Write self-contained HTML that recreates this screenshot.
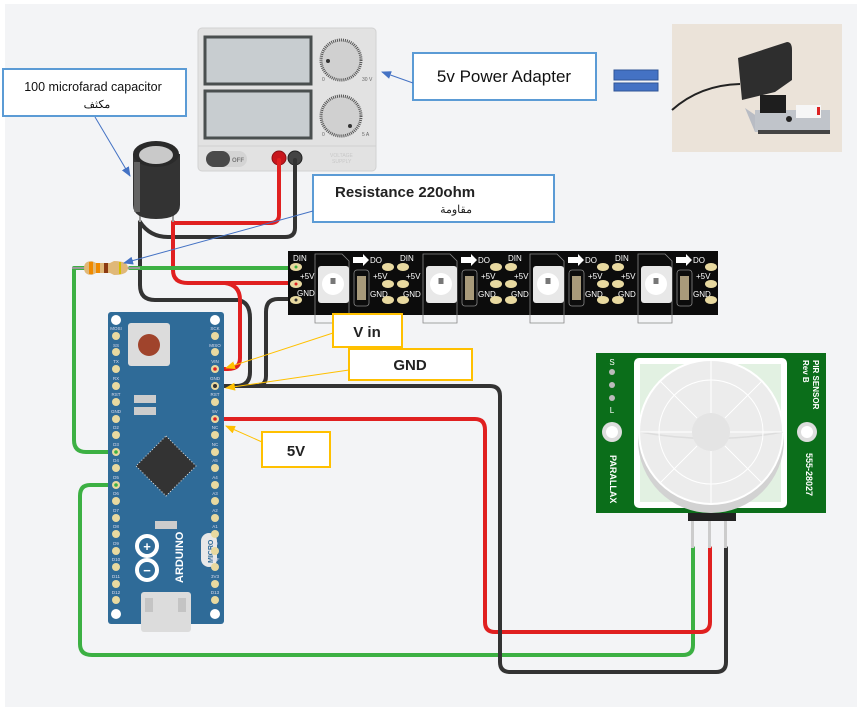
<!DOCTYPE html>
<html><head><meta charset="utf-8"><style>
html,body{margin:0;padding:0;background:#fff}
svg{display:block}
text{font-family:"Liberation Sans","Noto Sans CJK SC",sans-serif}
</style></head><body>
<svg width="862" height="712" viewBox="0 0 862 712" xmlns="http://www.w3.org/2000/svg">
<defs>
<marker id="ab" markerWidth="10" markerHeight="8" refX="9" refY="4" orient="auto" markerUnits="userSpaceOnUse"><path d="M0,0 L10,4 L0,8 z" fill="#4472c4"/></marker>
<marker id="ay" markerWidth="10" markerHeight="8" refX="9" refY="4" orient="auto" markerUnits="userSpaceOnUse"><path d="M0,0 L10,4 L0,8 z" fill="#ffc000"/></marker>
<g id="seg">
  <path d="M0,3 h27 l7,7 v62 h-34 z" fill="none" stroke="#888" stroke-width="0.8"/>
  <rect x="3" y="15" width="31" height="37" rx="3" fill="#e8e8e8"/>
  <circle cx="18" cy="33" r="11" fill="#fff"/>
  <rect x="15.5" y="27" width="5" height="6" fill="#777"/>
  <path d="M38,6 h10 v-3 l6,6 l-6,6 v-3 h-10z" fill="#fff"/>
  <rect x="39" y="19" width="15" height="36" rx="3" fill="none" stroke="#888" stroke-width="0.8"/>
  <rect x="42" y="25" width="9" height="24" fill="#a89a7a"/>
  <text x="55" y="12" font-size="8" fill="#fff">DO</text>
  <text x="85" y="10" font-size="8" fill="#fff">DIN</text>
  <text x="58" y="28" font-size="8" fill="#fff">+5V</text>
  <text x="91" y="28" font-size="8" fill="#fff">+5V</text>
  <text x="55" y="46" font-size="8" fill="#fff">GND</text>
  <text x="88" y="46" font-size="8" fill="#fff">GND</text>
  <g fill="#e8d9a0">
   <ellipse cx="73" cy="16" rx="6" ry="4"/><ellipse cx="88" cy="16" rx="6" ry="4"/>
   <ellipse cx="73" cy="33" rx="6" ry="4"/><ellipse cx="88" cy="33" rx="6" ry="4"/>
   <ellipse cx="73" cy="49" rx="6" ry="4"/><ellipse cx="88" cy="49" rx="6" ry="4"/>
  </g>
</g>
</defs>
<rect x="5" y="4" width="852" height="703" fill="#f3f4f6"/>

<!-- Power supply -->
<rect x="198" y="28" width="178" height="143" rx="4" fill="#e2e2e2" stroke="#d2d2d2"/>
<rect x="205" y="37" width="106" height="47" fill="#c8cdd0" stroke="#4a4f4f" stroke-width="3"/>
<rect x="205" y="91" width="106" height="47" fill="#c8cdd0" stroke="#4a4f4f" stroke-width="3"/>
<circle cx="341" cy="60" r="20" fill="#d0d0d0" stroke="#555" stroke-width="3" stroke-dasharray="1 1"/>
<circle cx="341" cy="116" r="20" fill="#d0d0d0" stroke="#555" stroke-width="3" stroke-dasharray="1 1"/>
<circle cx="328" cy="61" r="2" fill="#333"/><circle cx="350" cy="126" r="2" fill="#333"/>
<text x="322" y="81" font-size="5" fill="#666">0</text><text x="362" y="81" font-size="5" fill="#666">30 V</text>
<text x="322" y="136" font-size="5" fill="#666">0</text><text x="362" y="136" font-size="5" fill="#666">5 A</text>
<line x1="198" y1="146" x2="376" y2="146" stroke="#d0d0d0"/>
<rect x="206" y="151" width="41" height="16" rx="8" fill="#d4d4d4"/>
<rect x="206" y="151" width="24" height="16" rx="8" fill="#4a4a4a"/>
<text x="232" y="162" font-size="6" fill="#777" font-weight="bold">OFF</text>
<text x="330" y="157" font-size="5" fill="#c8c8c8">VOLTAGE</text><text x="332" y="163" font-size="5" fill="#c8c8c8">SUPPLY</text>
<circle cx="279" cy="158" r="7" fill="#c8161d" stroke="#8a1015"/>
<circle cx="295" cy="158" r="7" fill="#444" stroke="#222"/>

<!-- 5v Power Adapter -->
<rect x="413" y="53" width="183" height="47" fill="#fff" stroke="#5b9bd5" stroke-width="2"/>
<text x="504" y="82" font-size="17" text-anchor="middle" fill="#111">5v Power Adapter</text>
<line x1="413" y1="83" x2="382" y2="72" stroke="#4472c4" stroke-width="1" marker-end="url(#ab)"/>
<rect x="614" y="70" width="44" height="10" fill="#4472c4" stroke="#2f5597"/>
<rect x="614" y="83" width="44" height="8" fill="#4472c4" stroke="#2f5597"/>

<!-- Photo -->
<rect x="672" y="24" width="170" height="128" fill="#ebe3d9"/>
<path d="M672,110 Q700,85 740,84" stroke="#222" stroke-width="2" fill="none"/>
<path d="M745,108 L770,125 L830,125 L830,132 L755,132 Z" fill="#b8bcc4"/>
<rect x="755" y="110" width="75" height="22" fill="#c0c4ca"/>
<rect x="758" y="130" width="72" height="4" fill="#444"/>
<path d="M738,58 L787,42 Q792,42 792,50 L792,80 L775,92 L742,100 Z" fill="#2e2e2e"/>
<rect x="760" y="95" width="26" height="18" fill="#1e1e1e"/>
<rect x="796" y="105" width="25" height="13" fill="#f6f6f6"/>
<rect x="817" y="107" width="3" height="8" fill="#d22"/>
<circle cx="789" cy="119" r="3" fill="#222"/>

<!-- Capacitor label -->
<rect x="3" y="69" width="183" height="47" fill="#fff" stroke="#5b9bd5" stroke-width="2"/>
<text x="93" y="91" font-size="12.5" text-anchor="middle" fill="#111">100 microfarad capacitor</text>
<text x="97" y="108" font-size="11" text-anchor="middle" fill="#111" font-family="DejaVu Sans,sans-serif">مكثف</text>
<line x1="95" y1="117" x2="130" y2="176" stroke="#4472c4" stroke-width="1" marker-end="url(#ab)"/>

<!-- Wires (behind) -->
<g fill="none" stroke-width="4" stroke-linejoin="round" stroke-linecap="round">
 <path d="M295,160 V228 Q295,237 285,237 H168 Q150,237 140,222" stroke="#333"/>
 <path d="M279,160 V215 Q279,223 270,223 H173" stroke="#e02020"/>
 <path d="M140,222 V285 Q140,300 155,300 H238 Q250,302 250,318 V372 Q250,386 236,386 H216" stroke="#333"/>
 <path d="M290,299 H278 Q266,299 266,312 V376 Q266,386 256,386 H216" stroke="#333"/>
 <path d="M173,222 V270 Q173,283 188,283 H225 Q240,285 240,300 V358 Q240,369 228,369 H216" stroke="#e02020"/>
 <path d="M225,283 H292" stroke="#e02020"/>
 <path d="M130,268 H292" stroke="#3cb043"/>
 <path d="M85,268 H74 V440 Q74,452 86,452 H116" stroke="#3cb043"/>
 <path d="M116,485 H90 Q80,485 80,496 V644 Q80,655 92,655 H683 Q693,655 693,645 V548" stroke="#3cb043"/>
 <path d="M216,419 H475 Q485,419 485,430 V622 Q485,632 495,632 H700 Q710,632 710,622 V548" stroke="#e02020"/>
 <path d="M216,386 H490 Q500,386 500,396 V662 Q500,672 510,672 H716 Q726,672 726,662 V548" stroke="#333"/>
</g>

<!-- Capacitor -->
<line x1="140" y1="205" x2="140" y2="222" stroke="#999" stroke-width="2"/>
<line x1="173" y1="205" x2="173" y2="222" stroke="#999" stroke-width="2"/>
<path d="M133,154 V205 Q133,219 156,219 Q180,219 180,205 V154 Z" fill="#333"/>
<ellipse cx="156" cy="154" rx="23" ry="13" fill="#2a2a2a"/>
<ellipse cx="156" cy="155" rx="17" ry="9" fill="#c9c9c9"/>
<rect x="134" y="162" width="6" height="50" fill="#777" opacity="0.7"/>

<!-- Resistor -->
<line x1="72" y1="268" x2="140" y2="268" stroke="#999" stroke-width="2"/>
<path d="M84,268 Q84,261 92,261 L96,263 H110 L114,261 Q128,261 128,268 Q128,275 114,275 L110,273 H96 L92,275 Q84,275 84,268Z" fill="#e0b878"/>
<rect x="89" y="262" width="4" height="12" fill="#f08a00"/>
<rect x="96" y="263" width="4" height="10" fill="#f08a00"/>
<rect x="104" y="263" width="4" height="10" fill="#8b3a12"/>
<rect x="119" y="262" width="2" height="12" fill="#d4c000"/>

<!-- Resistance label -->
<rect x="313" y="175" width="241" height="47" fill="#fff" stroke="#5b9bd5" stroke-width="2"/>
<text x="335" y="197" font-size="15" font-weight="bold" fill="#222">Resistance 220ohm</text>
<text x="472" y="213" font-size="11" text-anchor="end" fill="#222" font-family="DejaVu Sans,sans-serif">مقاومة</text>
<line x1="313" y1="211" x2="124" y2="263" stroke="#4472c4" stroke-width="1" marker-end="url(#ab)"/>

<!-- LED strip -->
<rect x="288" y="251" width="430" height="64" fill="#0c0c0c"/>
<text x="293" y="261" font-size="8" fill="#fff">DIN</text>
<text x="300" y="279" font-size="8" fill="#fff">+5V</text>
<text x="297" y="296" font-size="8" fill="#fff">GND</text>
<ellipse cx="296" cy="267" rx="6" ry="4" fill="#e8d9a0"/><circle cx="296" cy="267" r="1.5" fill="#3cb043"/>
<ellipse cx="296" cy="284" rx="6" ry="4" fill="#e8d9a0"/><circle cx="296" cy="284" r="1.5" fill="#e02020"/>
<ellipse cx="296" cy="300" rx="6" ry="4" fill="#e8d9a0"/><circle cx="296" cy="300" r="1.5" fill="#333"/>
<use href="#seg" x="315" y="251"/>
<use href="#seg" x="423" y="251"/>
<use href="#seg" x="530" y="251"/>
<g transform="translate(638,251)">
  <path d="M0,3 h27 l7,7 v62 h-34 z" fill="none" stroke="#888" stroke-width="0.8"/>
  <rect x="3" y="15" width="31" height="37" rx="3" fill="#e8e8e8"/>
  <circle cx="18" cy="33" r="11" fill="#fff"/><rect x="15.5" y="27" width="5" height="6" fill="#777"/>
  <path d="M38,6 h10 v-3 l6,6 l-6,6 v-3 h-10z" fill="#fff"/>
  <rect x="39" y="19" width="15" height="36" rx="3" fill="none" stroke="#888" stroke-width="0.8"/>
  <rect x="42" y="25" width="9" height="24" fill="#a89a7a"/>
  <text x="55" y="12" font-size="8" fill="#fff">DO</text>
  <text x="58" y="28" font-size="8" fill="#fff">+5V</text>
  <text x="55" y="46" font-size="8" fill="#fff">GND</text>
  <g fill="#e8d9a0"><ellipse cx="73" cy="16" rx="6" ry="4"/><ellipse cx="73" cy="33" rx="6" ry="4"/><ellipse cx="73" cy="49" rx="6" ry="4"/></g>
</g>

<!-- Arduino -->
<rect x="108" y="312" width="116" height="312" rx="3" fill="#2f6b98"/>
<rect x="141" y="592" width="50" height="40" rx="3" fill="#dcdcdc"/>
<rect x="145" y="598" width="8" height="14" fill="#c4c4c4"/><rect x="178" y="598" width="8" height="14" fill="#c4c4c4"/>
<circle cx="116" cy="320" r="5" fill="#fff"/><circle cx="215" cy="320" r="5" fill="#fff"/>
<circle cx="116" cy="614" r="5" fill="#fff"/><circle cx="215" cy="614" r="5" fill="#fff"/>
<rect x="128" y="323" width="42" height="43" rx="3" fill="#dcdcdc"/>
<circle cx="149" cy="345" r="11" fill="#a0442c"/>
<rect x="134" y="395" width="22" height="8" fill="#ccc"/><rect x="134" y="407" width="22" height="8" fill="#ccc"/>
<path d="M166,436 L196,466 L166,496 L136,466 Z" fill="#333" stroke="#ddd" stroke-width="1" stroke-dasharray="1 2"/>
<rect x="155" y="521" width="22" height="8" fill="#ccc"/>
<g fill="none" stroke="#fff" stroke-width="4">
 <circle cx="147" cy="546" r="10"/><circle cx="147" cy="570" r="10"/>
</g>
<text x="147" y="551" font-size="13" fill="#fff" text-anchor="middle" font-weight="bold">+</text>
<text x="147" y="575" font-size="13" fill="#fff" text-anchor="middle" font-weight="bold">−</text>
<text transform="translate(183,583) rotate(-90)" font-size="11" font-weight="bold" fill="#fff">ARDUINO</text>
<rect x="201" y="533" width="16" height="34" rx="8" fill="#e8e8e8"/>
<text transform="translate(213,563) rotate(-90)" font-size="7" fill="#2f6b98" font-weight="bold">MICRO</text>
<g font-size="4.5" fill="#dde" text-anchor="middle">
 <text x="116" y="330">MOSI</text><text x="116" y="347">SS</text><text x="116" y="363">TX</text><text x="116" y="380">RX</text><text x="116" y="396">RST</text><text x="116" y="413">GND</text><text x="116" y="429">D2</text><text x="116" y="446">D3</text><text x="116" y="462">D4</text><text x="116" y="479">D5</text><text x="116" y="495">D6</text><text x="116" y="512">D7</text><text x="116" y="528">D8</text><text x="116" y="545">D9</text><text x="116" y="561">D10</text><text x="116" y="578">D11</text><text x="116" y="594">D12</text>
 <text x="215" y="330">SCK</text><text x="215" y="347">MISO</text><text x="215" y="363">VIN</text><text x="215" y="380">GND</text><text x="215" y="396">RST</text><text x="215" y="413">5V</text><text x="215" y="429">NC</text><text x="215" y="446">NC</text><text x="215" y="462">A5</text><text x="215" y="479">A4</text><text x="215" y="495">A3</text><text x="215" y="512">A2</text><text x="215" y="528">A1</text><text x="215" y="545">A0</text><text x="215" y="561">REF</text><text x="215" y="578">3V3</text><text x="215" y="594">D13</text>
</g>
<g fill="#e8d9a0">
 <circle cx="116" cy="336" r="4"/><circle cx="116" cy="352" r="4"/><circle cx="116" cy="369" r="4"/><circle cx="116" cy="386" r="4"/><circle cx="116" cy="402" r="4"/><circle cx="116" cy="419" r="4"/><circle cx="116" cy="435" r="4"/><circle cx="116" cy="452" r="4"/><circle cx="116" cy="468" r="4"/><circle cx="116" cy="485" r="4"/><circle cx="116" cy="501" r="4"/><circle cx="116" cy="518" r="4"/><circle cx="116" cy="534" r="4"/><circle cx="116" cy="551" r="4"/><circle cx="116" cy="567" r="4"/><circle cx="116" cy="584" r="4"/><circle cx="116" cy="600" r="4"/>
 <circle cx="215" cy="336" r="4"/><circle cx="215" cy="352" r="4"/><circle cx="215" cy="369" r="4"/><circle cx="215" cy="386" r="4"/><circle cx="215" cy="402" r="4"/><circle cx="215" cy="419" r="4"/><circle cx="215" cy="435" r="4"/><circle cx="215" cy="452" r="4"/><circle cx="215" cy="468" r="4"/><circle cx="215" cy="485" r="4"/><circle cx="215" cy="501" r="4"/><circle cx="215" cy="518" r="4"/><circle cx="215" cy="534" r="4"/><circle cx="215" cy="551" r="4"/><circle cx="215" cy="567" r="4"/><circle cx="215" cy="584" r="4"/><circle cx="215" cy="600" r="4"/>
</g>
<circle cx="215" cy="369" r="1.8" fill="#e02020"/><circle cx="215" cy="386" r="2" fill="#333"/><circle cx="215" cy="419" r="1.8" fill="#e02020"/>
<circle cx="116" cy="452" r="1.8" fill="#3cb043"/><circle cx="116" cy="485" r="1.8" fill="#3cb043"/>

<!-- Yellow labels -->
<rect x="333" y="314" width="69" height="33" fill="#fff" stroke="#ffc000" stroke-width="2"/>
<text x="367" y="337" font-size="15" font-weight="bold" text-anchor="middle" fill="#222">V in</text>
<line x1="333" y1="333" x2="226" y2="368" stroke="#ffc000" stroke-width="1" marker-end="url(#ay)"/>
<rect x="349" y="349" width="123" height="31" fill="#fff" stroke="#ffc000" stroke-width="2"/>
<text x="410" y="370" font-size="15" font-weight="bold" text-anchor="middle" fill="#222">GND</text>
<line x1="349" y1="370" x2="226" y2="388" stroke="#ffc000" stroke-width="1" marker-end="url(#ay)"/>
<rect x="262" y="432" width="68" height="35" fill="#fff" stroke="#ffc000" stroke-width="2"/>
<text x="296" y="456" font-size="15" font-weight="bold" text-anchor="middle" fill="#222">5V</text>
<line x1="262" y1="442" x2="226" y2="426" stroke="#ffc000" stroke-width="1" marker-end="url(#ay)"/>

<!-- PIR sensor -->
<rect x="688" y="511" width="48" height="10" fill="#222"/>
<rect x="691" y="521" width="3" height="27" fill="#ccc"/><rect x="708" y="521" width="3" height="27" fill="#ccc"/><rect x="724" y="521" width="3" height="27" fill="#ccc"/>
<rect x="596" y="353" width="230" height="160" fill="#0b6e1a"/>
<rect x="634" y="358" width="153" height="150" rx="5" fill="#fff"/>
<rect x="640" y="364" width="141" height="138" fill="#e2f1e2"/>
<circle cx="711" cy="440" r="73" fill="#d2d2d2"/>
<circle cx="711" cy="432" r="72" fill="#ececec" stroke="#fff" stroke-width="2"/>
<path d="M640,432 Q711,445 783,432" stroke="#ddd" fill="none" stroke-width="1.5"/>
<circle cx="711" cy="432" r="52" fill="none" stroke="#fff" stroke-width="1"/>
<g stroke="#fff" stroke-width="1">
 <line x1="711" y1="360" x2="711" y2="413"/><line x1="711" y1="451" x2="711" y2="504"/>
 <line x1="639" y1="432" x2="692" y2="432"/><line x1="730" y1="432" x2="783" y2="432"/>
 <line x1="660" y1="381" x2="697" y2="418"/><line x1="762" y1="381" x2="725" y2="418"/>
 <line x1="660" y1="483" x2="697" y2="446"/><line x1="762" y1="483" x2="725" y2="446"/>
</g>
<circle cx="711" cy="432" r="19" fill="#e4e4e4"/>
<circle cx="612" cy="432" r="10" fill="#ddd"/><circle cx="612" cy="432" r="6" fill="#fff"/>
<circle cx="807" cy="432" r="10" fill="#ddd"/><circle cx="807" cy="432" r="6" fill="#fff"/>
<circle cx="612" cy="372" r="3" fill="#bbb"/><circle cx="612" cy="385" r="3" fill="#bbb"/><circle cx="612" cy="398" r="3" fill="#bbb"/>
<text x="612" y="365" font-size="8" fill="#fff" text-anchor="middle">S</text>
<text x="612" y="413" font-size="8" fill="#fff" text-anchor="middle">L</text>
<text transform="translate(610,455) rotate(90)" font-size="9" font-weight="bold" fill="#fff">PARALLAX</text>
<text transform="translate(813,360) rotate(90)" font-size="8" font-weight="bold" fill="#fff">PIR SENSOR</text>
<text transform="translate(803,360) rotate(90)" font-size="8" font-weight="bold" fill="#fff">Rev B</text>
<text transform="translate(806,453) rotate(90)" font-size="9" font-weight="bold" fill="#fff">555-28027</text>
</svg>
</body></html>
